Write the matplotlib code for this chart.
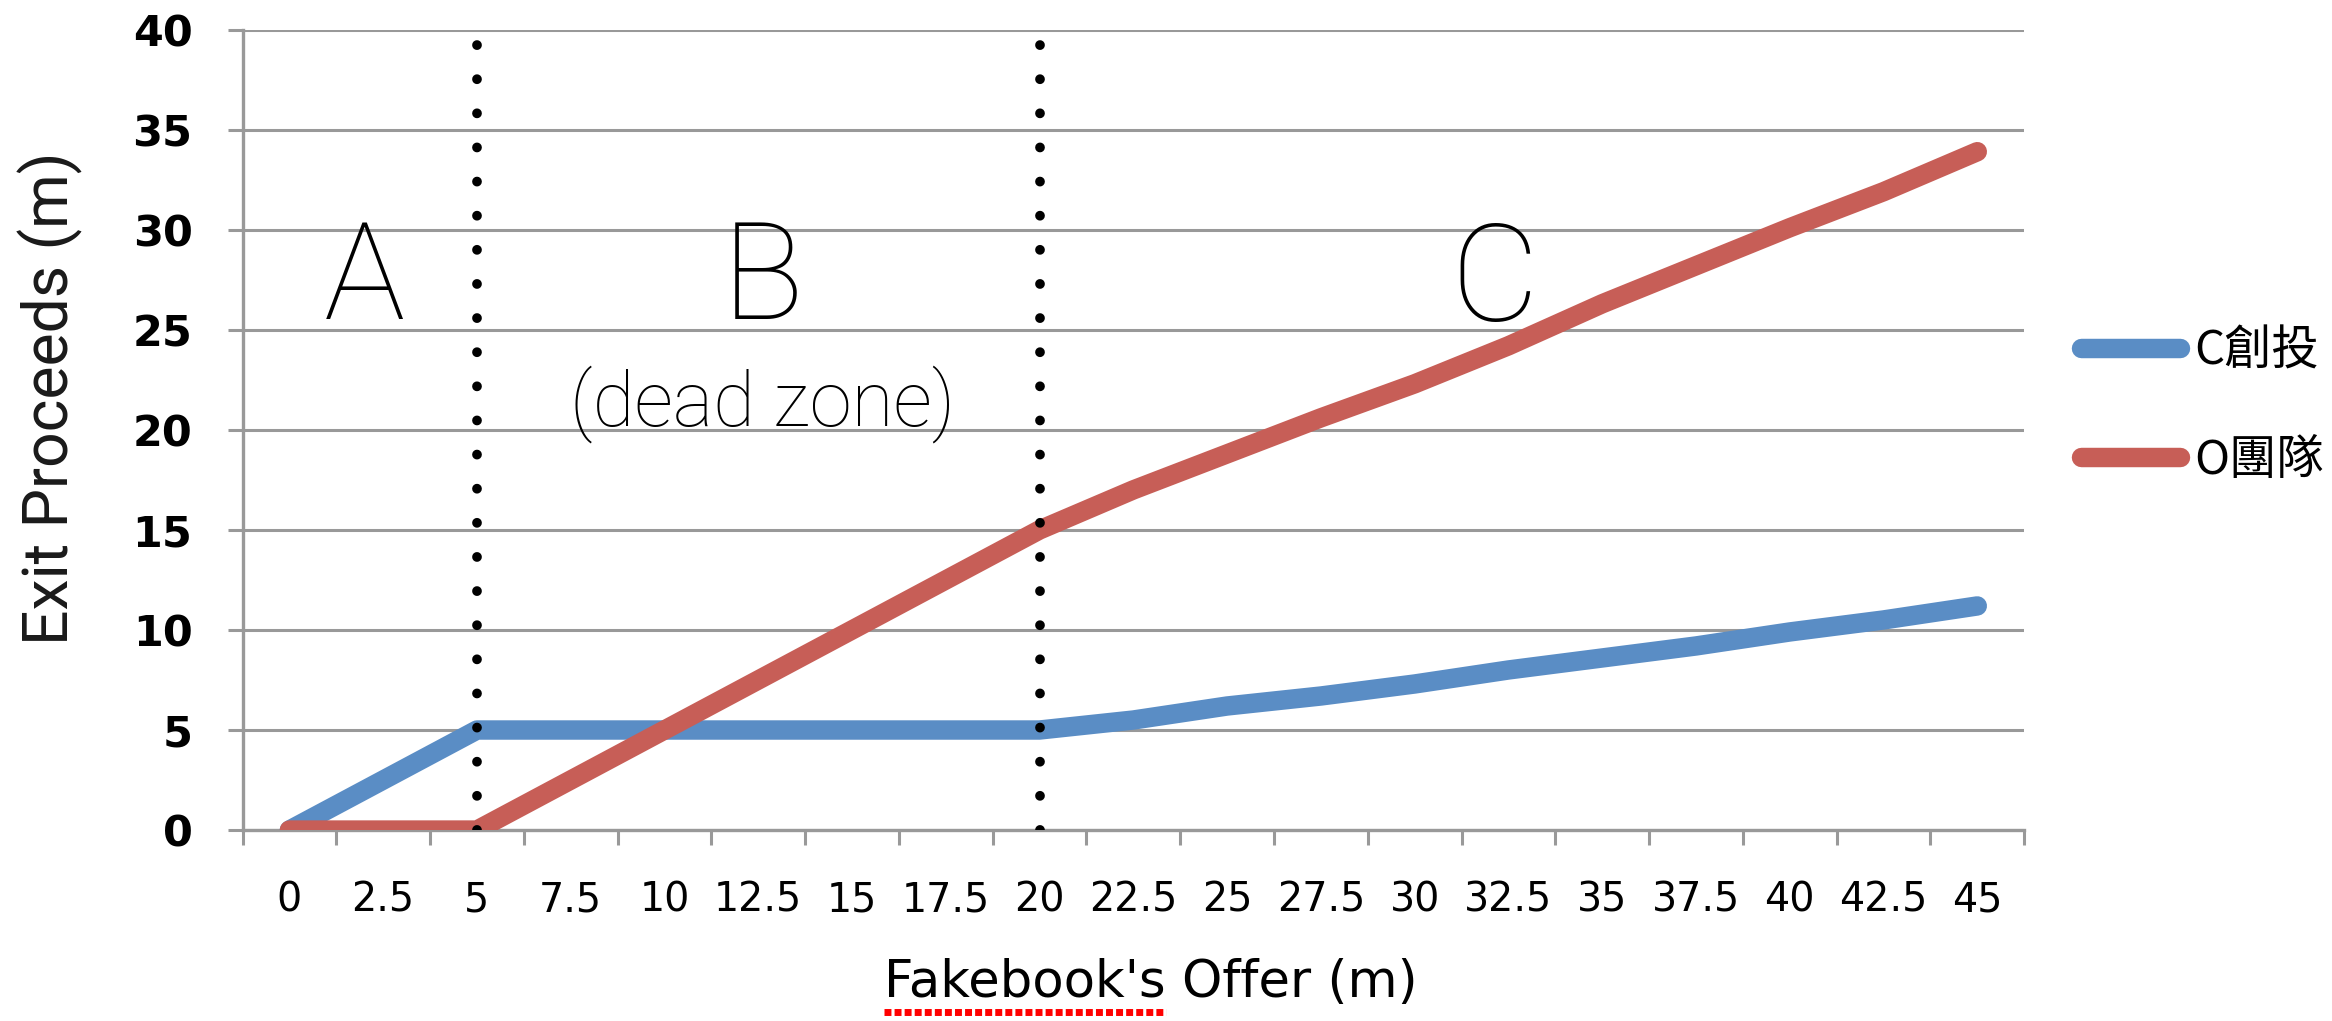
import numpy as np
import matplotlib
matplotlib.use("Agg")
import matplotlib.pyplot as plt
from matplotlib.lines import Line2D

# category axis (Fakebook's offer, $m)
offers = ["0", "2.5", "5", "7.5", "10", "12.5", "15", "17.5", "20", "22.5",
          "25", "27.5", "30", "32.5", "35", "37.5", "40", "42.5", "45"]

# exit proceeds ($m)
vc_proceeds = [0, 2.5, 5, 5, 5, 5, 5, 5, 5, 5.5,
               6.2, 6.7, 7.3, 8.0, 8.6, 9.2, 9.9, 10.5, 11.2]
team_proceeds = [0, 0, 0, 2.5, 5, 7.5, 10, 12.5, 15, 17.0,
                 18.8, 20.6, 22.3, 24.2, 26.3, 28.2, 30.1, 31.9, 33.9]
series_names = ["C創投", "O團隊"]

zone_bounds = ["5", "20"]          # dotted separators
zone_letters = ["A", "B", "C"]
zone_letter_pos = [(0.8, 27.4), (5.05, 27.4), (12.85, 27.3)]
dead_zone_pos = (5.05, 21.3)

BLUE = "#5a8dc5"
RED = "#c75e57"
GRID = "#999999"

fig = plt.figure(figsize=(23.32, 10.21), dpi=100)
ax = fig.add_axes([0.104, 0.187, 0.764, 0.784])

x = np.arange(len(offers))
ax.plot(x, vc_proceeds, color=BLUE, lw=14, solid_capstyle="round",
        solid_joinstyle="round", label=series_names[0], zorder=3)
ax.plot(x, team_proceeds, color=RED, lw=14, solid_capstyle="round",
        solid_joinstyle="round", label=series_names[1], zorder=4)

for b in zone_bounds:
    ax.axvline(offers.index(b), color="black", lw=7,
               linestyle=(0, (0.01, 3.5)), dash_capstyle="round", zorder=5)

ax.set_xlim(-0.5, len(offers) - 0.5)
ax.set_ylim(0, 40)
ax.set_yticks(np.arange(0, 41, 5))
ax.yaxis.grid(True, color=GRID, lw=2.2, zorder=0)
ax.set_axisbelow(True)

ax.set_xticks(x)
ax.set_xticklabels(offers, family="DejaVu Sans", fontsize=28.5)
ax.set_xticks(np.arange(-0.5, len(offers)), minor=True)
ax.tick_params(axis="x", which="major", length=0, pad=36)
ax.tick_params(axis="x", which="minor", length=11, width=2.2, color=GRID, direction="out")
ax.tick_params(axis="y", length=11, width=2.2, color=GRID, pad=25, labelsize=31)
for lab in ax.get_yticklabels():
    lab.set_fontweight("bold")

for s in ["top", "right"]:
    ax.spines[s].set_visible(False)
for s in ["left", "bottom"]:
    ax.spines[s].set_color(GRID)
    ax.spines[s].set_linewidth(2.4)

ax.set_ylabel("Exit Proceeds (m)", family="Roboto", fontweight="normal",
              fontsize=45, color="#1a1a1a")
ax.yaxis.label.set_va("center")
ax.yaxis.set_label_coords(-0.1077, 0.54)

xlab_pos = (0.51, -0.209)
ax.set_xlabel("Fakebook's Offer (m)", family="DejaVu Sans", fontsize=37)
ax.xaxis.label.set_va("baseline")
ax.xaxis.set_label_coords(*xlab_pos)

for letter, (lx, ly) in zip(zone_letters, zone_letter_pos):
    ax.text(lx, ly, letter, family="Roboto", fontweight="light", fontsize=98,
            ha="center", va="center", zorder=6)
ax.text(*dead_zone_pos, "(dead zone)", family="Roboto", fontweight="light",
        fontsize=55, ha="center", va="center", zorder=6)

ax.legend(loc="center left", bbox_to_anchor=(1.032, 0.53), frameon=False,
          borderpad=0, borderaxespad=0, handlelength=2.1, handletextpad=0.3,
          labelspacing=1.3, prop={"family": ["Noto Sans CJK TC", "DejaVu Sans"], "size": 34})

# red spell-check squiggle under "Fakebook's", as in the screenshot
fig.canvas.draw()
renderer = fig.canvas.get_renderer()
bb = ax.xaxis.label.get_window_extent(renderer)
probe = fig.text(0, 0, "Fakebook's", family="DejaVu Sans", fontsize=37)
word_w = probe.get_window_extent(renderer).width
probe.remove()
base_y = ax.transAxes.transform(xlab_pos)[1]
W, H = fig.bbox.width, fig.bbox.height
sq_y = (base_y - 15) / H
fig.add_artist(Line2D([bb.x0 / W, (bb.x0 + word_w) / W], [sq_y, sq_y],
                      color="#ff0000", lw=5, linestyle=(0, (1.0, 0.45)),
                      solid_capstyle="butt", dash_capstyle="butt"))

fig.savefig("out.png", dpi=100)
